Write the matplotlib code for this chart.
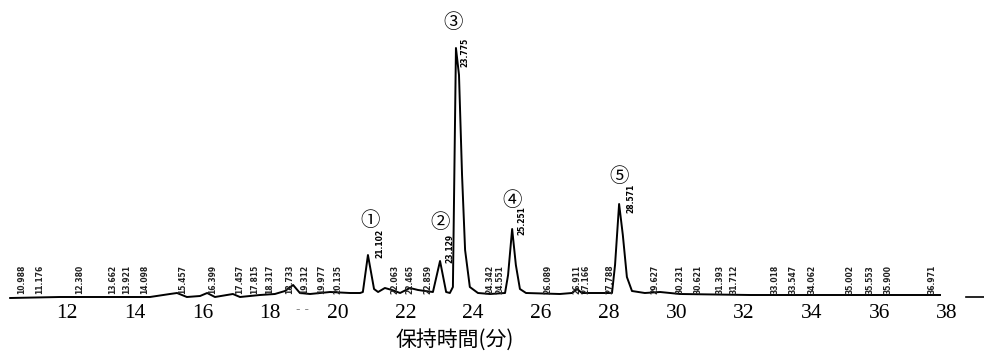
import matplotlib.pyplot as plt

# chromatogram trace (retention time in min, detector signal)
trace_time = [10.32, 11.79, 12.97, 14.45, 15.04, 15.25, 15.54, 15.93, 16.14, 16.37,
              16.90, 17.11, 17.70, 18.14, 18.44, 18.68, 18.88, 19.18, 19.77, 20.36,
              20.66, 20.74, 20.89, 21.07, 21.19, 21.39, 21.60, 21.84, 22.13, 22.37,
              22.58, 22.81, 23.02, 23.20, 23.31, 23.40, 23.49, 23.58, 23.67, 23.76,
              23.90, 24.14, 24.50, 24.94, 25.03, 25.15, 25.26, 25.38, 25.56, 26.56,
              26.92, 27.07, 27.21, 28.10, 28.19, 28.31, 28.42, 28.54, 28.69, 29.07,
              29.52, 30.11, 32.18, 35.13, 37.79]
trace_signal = [-3, -2, -2, -2, 1, 2, -2, -1, 2, -2,
                1, -2, 0, 1, 4, 10, 2, 1, 3, 2,
                2, 3, 40, 6, 3, 7, 5, 2, 7, 5,
                4, 3, 34, 3, 2, 8, 247, 220, 120, 45,
                8, 2, 1, 2, 20, 66, 30, 6, 2, 1,
                2, 6, 2, 2, 30, 91, 60, 18, 4, 2,
                3, 1, 0, 0, 0]

# numbered peaks
peak_marks = ['①', '②', '③', '④', '⑤']
peak_mark_time = [20.95, 23.02, 23.40, 25.15, 28.31]
peak_mark_signal = [74, 72, 272, 95, 119]

# retention-time labels printed above the main peaks
main_label_text = ['21.102', '23.129', '23.775', '25.251', '28.571']
main_label_time = [21.25, 23.31, 23.76, 25.44, 28.66]
main_label_signal = [37, 32, 228, 60, 82]

# small retention-time labels along the baseline
minor_label_text = ['10.988', '11.176', '12.380', '13.662', '13.921', '14.098', '15.457',
                    '16.399', '17.457', '17.815', '18.317', '18.733', '19.312', '19.977',
                    '20.135', '22.063', '22.465', '22.859', '24.342', '24.551', '26.089',
                    '26.911', '27.166', '27.788', '29.627', '30.231', '30.621', '31.393',
                    '31.712', '33.018', '33.547', '34.062', '35.002', '35.553', '35.900',
                    '36.971']
minor_label_time = [10.67, 11.20, 12.38, 13.36, 13.77, 14.30, 15.43,
                    16.31, 17.11, 17.55, 18.00, 18.59, 19.03, 19.53,
                    20.00, 21.69, 22.13, 22.66, 24.50, 24.79, 26.21,
                    27.07, 27.33, 28.04, 29.37, 30.11, 30.64, 31.30,
                    31.70, 32.92, 33.45, 34.00, 35.13, 35.72, 36.25,
                    37.55]

xticks = [12, 14, 16, 18, 20, 22, 24, 26, 28, 30, 32, 34, 36, 38]

fig = plt.figure(figsize=(9.84, 3.58), dpi=100)
ax = fig.add_axes([0, 54 / 358, 1, 304 / 358])

ax.plot(trace_time, trace_signal, color='black', lw=1.4)
ax.plot([38.56, 39.09], [-2, -2], color='black', lw=1.2)

for m, t, s in zip(peak_marks, peak_mark_time, peak_mark_signal):
    ax.text(t, s, m, fontsize=14, family=['Noto Sans CJK JP', 'DejaVu Sans'],
            ha='center', va='center')

for lab, t, s in zip(main_label_text, main_label_time, main_label_signal):
    ax.text(t, s, lab, rotation=90, fontsize=5.5, family=['Liberation Sans Narrow', 'DejaVu Sans'],
            ha='center', va='bottom', fontweight='bold')

for lab, t in zip(minor_label_text, minor_label_time):
    ax.text(t, 1, lab, rotation=90, fontsize=5.5, family=['Liberation Sans Narrow', 'DejaVu Sans'],
            ha='center', va='bottom', color='#222222', fontweight='bold')

ax.text(18.95, -8, '- -', fontsize=9, color='#888888', ha='center', va='top')

ax.set_xlim(10.02, 39.09)
ax.set_ylim(-9, 295)
ax.set_xticks(xticks)
ax.set_xticklabels([str(v) for v in xticks], fontsize=15.5, family='Liberation Serif')
ax.tick_params(axis='x', length=0, pad=0)
ax.set_yticks([])
for sp in ax.spines.values():
    sp.set_visible(False)
ax.patch.set_alpha(0)

fig.text(455 / 984, 1 - 340 / 358, '保持時間(分)', fontsize=15,
         family=['Noto Sans CJK JP', 'DejaVu Sans'], ha='center', va='center')

fig.savefig('out.png', dpi=100)
